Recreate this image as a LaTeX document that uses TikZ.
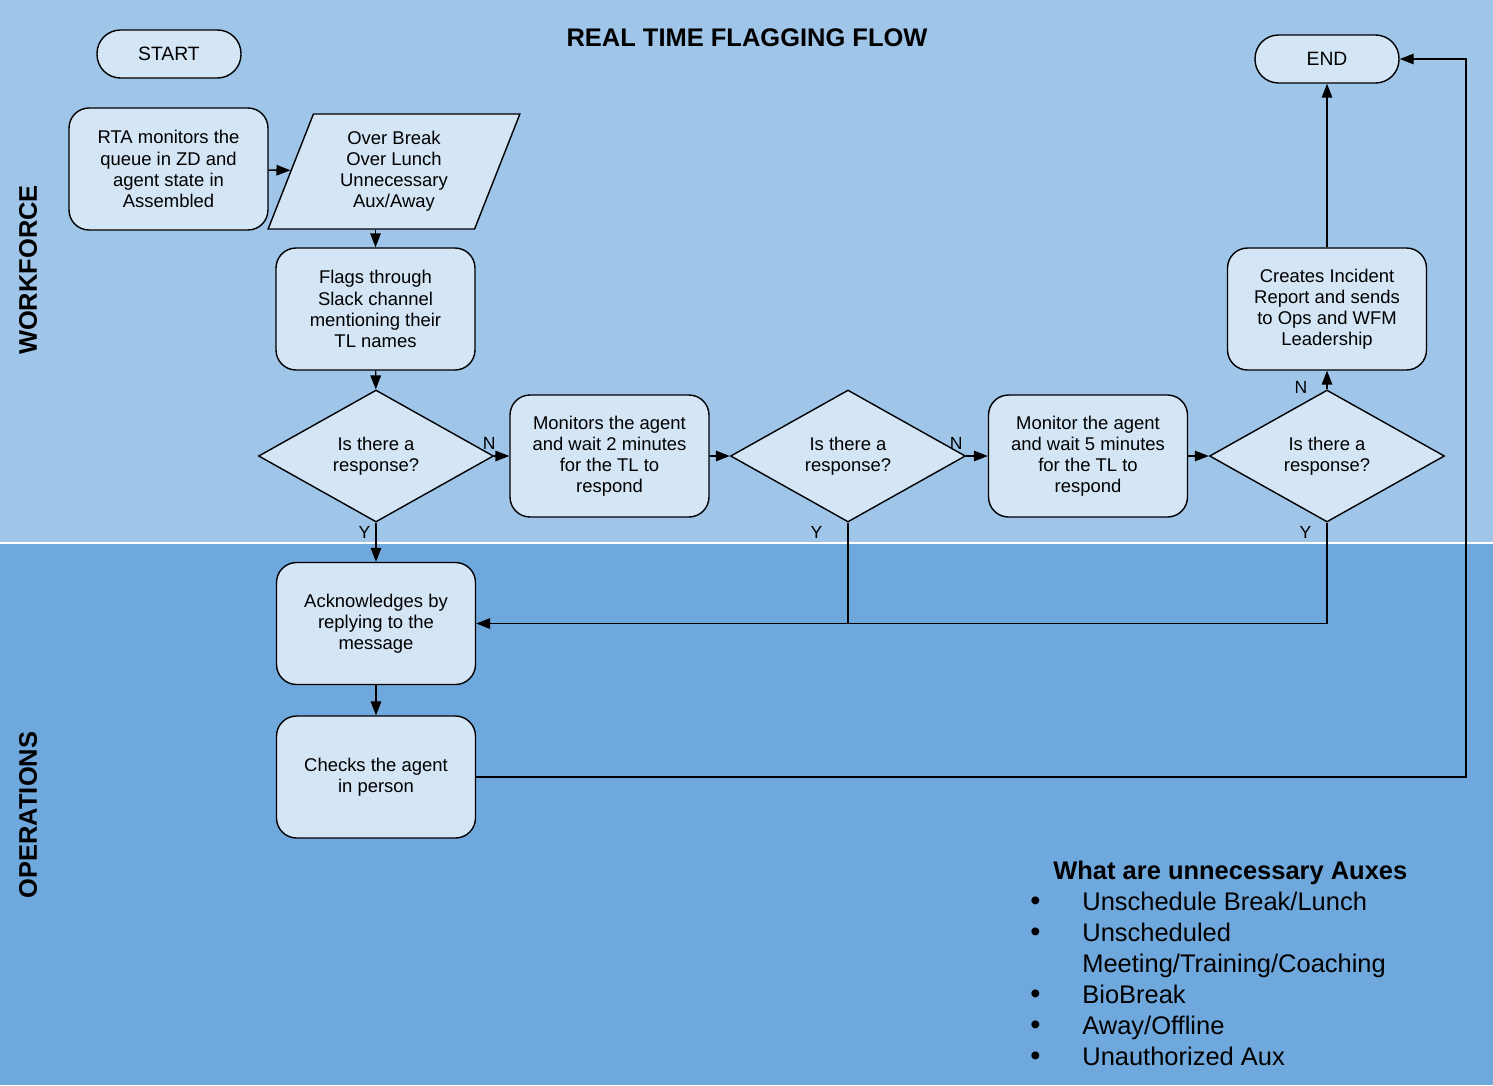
\documentclass[tikz,border=0pt]{standalone}
\usepackage{fontspec}
\setmainfont{Liberation Sans}
\usetikzlibrary{arrows.meta}
\usetikzlibrary{shapes.geometric,positioning}
\definecolor{laneTop}{HTML}{9FC5E8}
\definecolor{laneBot}{HTML}{6FA8DC}
\colorlet{boxFill}{laneTop!45!white}
\colorlet{penColor}{black}
\newcommand{\boxfont}{\fontsize{10.5}{12}\selectfont}
\newcommand{\headfont}{\bfseries\fontsize{14.5}{17}\selectfont}
\newcommand{\bigdot}{{\fontsize{16.5}{17.7}\selectfont•}}
\tikzset{>={Triangle[length=2.8mm,width=2.1mm]},
  flowbox/.style={draw=penColor,fill=boxFill,line width=0.8pt,rounded corners=0.4cm,
    minimum width=3.98cm,minimum height=2.44cm,align=center,font=\boxfont},
  terminal/.style={draw=penColor,fill=boxFill,line width=0.8pt,rounded corners=0.47cm,
    minimum width=2.88cm,minimum height=0.96cm,font=\fontsize{11}{13}\selectfont},
  decision/.style={diamond,draw=penColor,fill=boxFill,line width=0.8pt,aspect=1.78,
    minimum width=4.7cm,minimum height=2.64cm,inner sep=0pt,align=center,font=\boxfont},
  slanted/.style={trapezium,trapezium left angle=70,trapezium right angle=110,
    trapezium stretches=true,
    draw=penColor,fill=boxFill,line width=0.8pt,minimum width=5.04cm,minimum height=2.3cm,
    align=center,font=\boxfont},
  flow/.style={->,line width=0.8pt,draw=penColor},
  yn/.style={font=\fontsize{10}{12}\selectfont,inner sep=0pt},
  lane/.style={rotate=90,font=\headfont}}

\begin{document}
\begin{tikzpicture}[x=0.02cm,y=-0.02cm]
    \useasboundingbox (0,0) rectangle (1493,1085);
    % swim lanes
    \fill[laneTop] (0,0) rectangle (1493,543);
    \fill[laneBot] (0,543) rectangle (1493,1085);
    \draw[white,line width=1pt] (0,543) -- (1493,543);
    \node[lane] (wf) at (28,270) {WORKFORCE};
    \node[lane] (ops) at (28,815) {OPERATIONS};
    \node[font=\headfont] (title) at (747,38) {REAL TIME FLAGGING FLOW};

    % workforce lane
    \node[terminal] (start) at (169,54) {START};
    \node[flowbox] (rta) at (168.5,169) {RTA monitors the\\queue in ZD and\\agent state in\\Assembled};
    \node[slanted] (para) at (394,171.5) {Over Break\\Over Lunch\\Unnecessary\\Aux/Away};
    \node[flowbox] (flags) at (375.5,309) {Flags through\\Slack channel\\mentioning their\\TL names};
    \node[decision] (d1) at (376,456) {Is there a\\response?};
    \node[flowbox] (mon2) at (609.5,456) {Monitors the agent\\and wait 2 minutes\\for the TL to\\respond};
    \node[decision] (d2) at (848,456) {Is there a\\response?};
    \node[flowbox] (mon5) at (1088,456) {Monitor the agent\\and wait 5 minutes\\for the TL to\\respond};
    \node[decision] (d3) at (1327,456) {Is there a\\response?};
    \node[flowbox] (report) at (1327,309) {Creates Incident\\Report and sends\\to Ops and WFM\\Leadership};
    \node[terminal] (end) at (1327,59) {END};

    % operations lane
    \node[flowbox] (ack) at (376,623.5) {Acknowledges by\\replying to the\\message};
    \node[flowbox] (check) at (376,777) {Checks the agent\\in person};
    \coordinate (rim) at (1466,0);

    \draw[flow] (rta) -- (para);
    \draw[flow] (flags.north |- para.south) -- (flags.north);
    \draw[flow] (flags) -- (d1);
    \draw[flow] (d1) -- node[yn,pos=0,anchor=south east,xshift=0.04cm,yshift=0.12cm]{N} (mon2);
    \draw[flow] (mon2) -- (d2);
    \draw[flow] (d2) -- node[yn,pos=0,anchor=south east,xshift=-0.06cm,yshift=0.12cm]{N} (mon5);
    \draw[flow] (mon5) -- (d3);
    \draw[flow] (d3) -- node[yn,pos=0,anchor=east,xshift=-0.38cm,yshift=0.04cm]{N} (report);
    \draw[flow] (report) -- (end);
    \draw[flow] (d1) -- node[yn,pos=0,anchor=north east,xshift=-0.1cm,yshift=-0.06cm]{Y} (ack);
    \draw[flow] (d2.south) |- node[yn,pos=0,anchor=north east,xshift=-0.5cm,yshift=-0.06cm]{Y} (ack.east);
    \draw[line width=0.8pt] (d3.south) |- node[yn,pos=0,anchor=north east,xshift=-0.3cm,yshift=-0.06cm]{Y} (d2.south |- ack.east);
    \draw[flow] (ack) -- (check);
    \draw[flow] (check.east) -- (check.east -| rim) |- (end.east);

    % list of auxes
    \node[anchor=north west,inner sep=0pt,font=\fontsize{14.5}{17.7}\selectfont] (auxlist) at (1030,857)
      {\begin{tabular}{@{}p{1.04cm}@{}l@{}}
        \multicolumn{2}{@{\hspace{0.46cm}}l@{}}{\bfseries What are unnecessary Auxes}\\
        \bigdot&Unschedule Break/Lunch\\
        \bigdot&Unscheduled\\
        &Meeting/Training/Coaching\\
        \bigdot&BioBreak\\
        \bigdot&Away/Offline\\
        \bigdot&Unauthorized Aux
      \end{tabular}};
\end{tikzpicture}
\end{document}
